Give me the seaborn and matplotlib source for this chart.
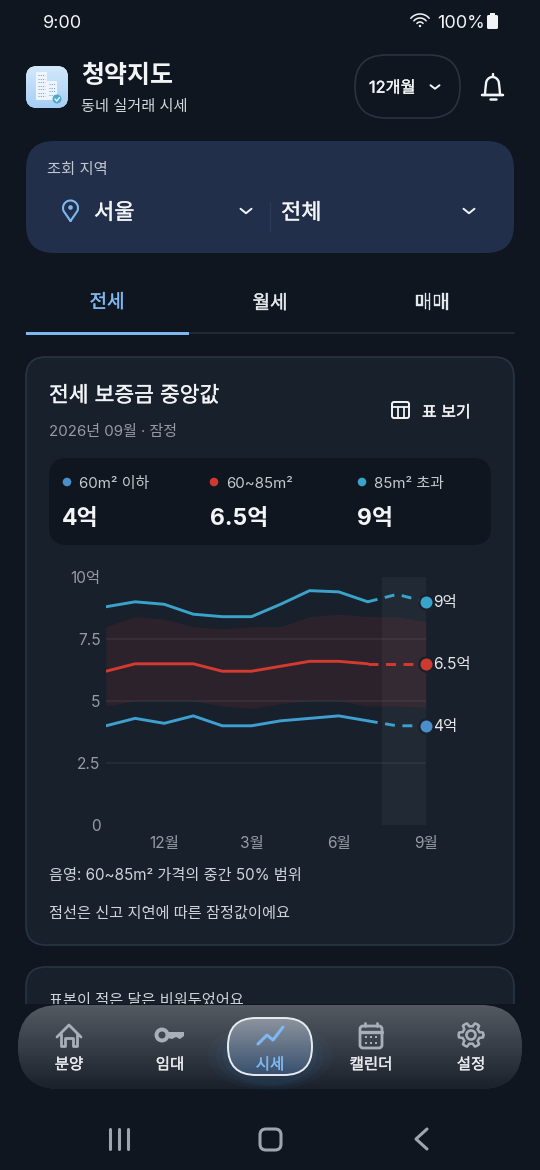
import numpy as np
import pandas as pd
import matplotlib
matplotlib.use("Agg")
import matplotlib.pyplot as plt
import matplotlib.patheffects as pe
import seaborn as sns
from matplotlib.patches import FancyBboxPatch, Circle, Polygon, Rectangle, Ellipse

# chart data (억)
months = [0, 1, 2, 3, 4, 5, 6, 7, 8, 9, 10, 11]
small = [4.0, 4.3, 4.1, 4.4, 4.0, 4.0, 4.2, 4.3, 4.4, 4.2, 4.0, 4.0]
mid = [6.2, 6.5, 6.5, 6.5, 6.2, 6.2, 6.4, 6.6, 6.6, 6.5, 6.5, 6.5]
large = [8.8, 9.0, 8.9, 8.5, 8.4, 8.4, 8.9, 9.45, 9.4, 9.0, 9.3, 9.0]
band_low = [4.8, 5.0, 5.0, 5.0, 4.8, 4.7, 4.9, 5.0, 5.0, 4.8, 4.8, 4.75]
band_high = [8.0, 8.4, 8.3, 8.0, 7.9, 8.0, 8.0, 8.4, 8.5, 8.4, 8.4, 8.2]
y_ticks = [0, 2.5, 5, 7.5, 10]
y_labels = ["0", "2.5", "5", "7.5", "10억"]
x_ticks = [2, 5, 8, 11]
x_labels = ["12월", "3월", "6월", "9월"]
end_labels = ["4억", "6.5억", "9억"]
stat_names = ["60m² 이하", "60~85m²", "85m² 초과"]
nav_names = ["분양", "임대", "시세", "캘린더", "설정"]

BG = "#0f1620"
CARD = "#18202b"
PANEL = "#212f4a"
INNER = "#10161f"
BLUE = "#4a8fc9"
RED = "#cf3a30"
TEAL = "#3aa3c9"
ACCENT = "#7fb8f0"
WHITE = "#f2f4f6"
GREY = "#969ca4"
ICON = "#a9afb8"

sns.set_theme(style="dark")
plt.rcParams["font.family"] = ["Inter", "Noto Sans CJK KR", "DejaVu Sans"]
plt.rcParams["axes.unicode_minus"] = False
plt.rcParams["patch.linewidth"] = 0
plt.rcParams["patch.edgecolor"] = "none"


def px(size):
    return size * 0.72


def rbox(ax, x0, y0, x1, y1, r, fc, ec="none", lw=1, z=1):
    p = FancyBboxPatch((x0, y0), x1 - x0, y1 - y0, boxstyle=f"round,pad=0,rounding_size={r}",
                       fc=fc, ec=ec, lw=lw, zorder=z)
    ax.add_patch(p)
    return p


def label(ax, x, y, s, size, color=WHITE, weight="normal", ha="left", z=5):
    # no medium cut of the font here, so thicken the regular one a little
    medium = weight == "medium"
    txt = ax.text(x, y + 1.7, s, fontsize=px(size), color=color, fontweight="normal" if medium else weight,
                  ha=ha, va="center", zorder=z)
    if medium:
        txt.set_path_effects([pe.withStroke(linewidth=0.25, foreground=color)])


def chevron(ax, x, y, w=5.5, h=4, color=WHITE):
    ax.plot([x - w, x, x + w], [y - h / 2, y + h / 2, y - h / 2], color=color, lw=1.4, zorder=5,
            solid_capstyle="round", solid_joinstyle="round")


def stroke(ax, xs, ys, color=ICON, lw=1.6, z=6):
    ax.plot(xs, ys, color=color, lw=lw, zorder=z, solid_capstyle="round", solid_joinstyle="round")


def gradient(ax, patch, top, bottom, x0, y0, x1, y1, z):
    c0 = np.array(matplotlib.colors.to_rgb(top))
    c1 = np.array(matplotlib.colors.to_rgb(bottom))
    t = np.linspace(0, 1, 128)[:, None, None]
    img = c0[None, None, :] * (1 - t) + c1[None, None, :] * t
    im = ax.imshow(img, extent=(x0, x1, y1, y0), aspect="auto", zorder=z, interpolation="bilinear")
    im.set_clip_path(patch)


fig = plt.figure(figsize=(5.4, 11.7), dpi=100, facecolor=BG)

# page behind the chart
ui = fig.add_axes([0, 0, 1, 1], zorder=1)
ui.set_xlim(0, 540)
ui.set_ylim(1170, 0)
ui.axis("off")

# status bar
label(ui, 43, 22, "9:00", 18)
label(ui, 437, 22, "100%", 18)
for r in (4, 8, 12):
    t = np.linspace(np.radians(-140), np.radians(-40), 20)
    stroke(ui, 420 + r * np.cos(t), 26 + r * np.sin(t), WHITE, 1.1)
ui.add_patch(Circle((420, 26), 1.2, fc=WHITE, zorder=6))
rbox(ui, 487, 15, 498, 29, 1.5, WHITE, z=6)
ui.add_patch(Rectangle((490, 13), 5, 2, fc=WHITE, zorder=6))

# header
icon = rbox(ui, 26, 66, 68, 108, 11, "#bcdcf8", z=2)
gradient(ui, icon, "#d4e9fb", "#a5cef5", 26, 66, 68, 108, 3)
for bx, by, bw, bh in ((36, 72, 11, 28), (47, 81, 10, 19)):
    ui.add_patch(Rectangle((bx, by), bw, bh, fc="#eef5fc", zorder=4))
    for wy in np.arange(by + 3, by + bh - 2, 3.5):
        ui.plot([bx + 2, bx + bw - 2], [wy, wy], color="#7fa7cf", lw=0.8, ls=(0, (1, 1)), zorder=5)
ui.add_patch(Circle((57, 99), 4.5, fc="#4fa9c9", zorder=6))
stroke(ui, [55, 56.7, 59.5], [99, 101, 97.5], WHITE, 1)
label(ui, 81, 74.5, "청약지도", 25, weight="bold")
label(ui, 81, 105, "동네 실거래 시세", 15.2, "#d4d8de")
rbox(ui, 355, 55, 460, 118, 31, BG, "#2a3340", 1.2)
label(ui, 369, 86.5, "12개월", 16.3, weight="medium")
chevron(ui, 435, 87, 4.5, 3.5)
# bell
t = np.linspace(np.pi, 2 * np.pi, 20)
stroke(ui, [485, 485.5] + list(492.5 + 6.5 * np.cos(t)) + [499.5, 500], [94, 88] + list(84 + 7 * np.sin(t)) + [88, 94],
       WHITE, 1.7)
stroke(ui, [482, 503, 482], [95, 95, 95], WHITE, 1.7)
stroke(ui, [489.5, 495.5], [99, 99], WHITE, 1.8)
stroke(ui, [492.5, 492.5], [74, 76], WHITE, 1.7)

# region selector
rbox(ui, 26, 141, 514, 253, 28, PANEL)
label(ui, 47, 168, "조회 지역", 15.3, "#c2c8d2")
t = np.linspace(np.radians(205), np.radians(-25), 30)
stroke(ui, [70.5] + list(70.5 + 7.5 * np.cos(t)) + [70.5], [221] + list(208 - 7.5 * np.sin(t)) + [221], ACCENT, 1.5)
ui.add_patch(Circle((70.5, 207.5), 2.3, fc=ACCENT, zorder=6))
label(ui, 94, 211.5, "서울", 22, weight="medium")
chevron(ui, 246, 211, 5.5, 4.5)
ui.plot([270, 270], [202, 232], color="#2b3a57", lw=1, zorder=3)
label(ui, 281, 211.5, "전체", 22, weight="medium")
chevron(ui, 469, 211, 5.5, 4.5)

# tabs
label(ui, 107, 301, "전세", 19, ACCENT, "medium", "center")
label(ui, 270, 302, "월세", 19, "#e4e7eb", "medium", "center")
label(ui, 432, 302, "매매", 19, "#e4e7eb", "medium", "center")
ui.plot([26, 514], [333, 333], color="#262e3a", lw=1.2, zorder=2)
ui.add_patch(Rectangle((26, 331.5), 163, 3.5, fc=ACCENT, zorder=3))

# main card
rbox(ui, 26, 357, 514, 945, 20, CARD, "#2a3442", 1.2)
label(ui, 49, 394, "전세 보증금 중앙값", 21.5, weight="medium")
label(ui, 49, 430, "2026년 09월 · 잠정", 15, GREY)
rbox(ui, 392, 402, 409, 418, 2, "none", WHITE, 1.4, z=5)
stroke(ui, [392, 409], [407, 407], WHITE, 1.3)
stroke(ui, [398, 398], [407, 418], WHITE, 1.3)
stroke(ui, [403.5, 403.5], [407, 418], WHITE, 1.3)
label(ui, 422, 411, "표 보기", 16, weight="medium")

# summary strip
rbox(ui, 49, 458, 491, 545, 18, INNER)
dot_x = [67, 214, 362]
name_x = [79, 226, 374]
value_x = [62, 210, 357]
dot_colors = [BLUE, RED, TEAL]
for i in range(3):
    ui.add_patch(Circle((dot_x[i], 482), 4.3, fc=dot_colors[i], zorder=5))
    label(ui, name_x[i], 482, stat_names[i], 15, "#c6cad0")
    label(ui, value_x[i], 517, end_labels[i], 23, weight="bold")

label(ui, 49, 874, "음영: 60~85m² 가격의 중간 50% 범위", 15.2, "#d0d4da")
label(ui, 49, 912, "점선은 신고 지연에 따른 잠정값이에요", 15.2, "#d0d4da")

# second card, cut off by the nav area
rbox(ui, 26, 967, 514, 1100, 20, CARD, "#2a3442", 1.2, z=1)
label(ui, 49, 999, "표본이 적은 달은 비워두었어요", 15.2, "#d0d4da", z=2)
ui.add_patch(Rectangle((0, 1004), 540, 166, fc=BG, zorder=3))

# chart
W, H = 540, 1170
ax = fig.add_axes([106 / W, (H - 825) / H, 320 / W, 248 / H], zorder=2)
ax.patch.set_alpha(0)
ax.axvspan(9.5, 11, color="white", alpha=0.045, lw=0, zorder=1)
ax.fill_between(months, band_low, band_high, color=RED, alpha=0.11, lw=0, zorder=2)
for v in y_ticks[1:-1]:
    ax.axhline(v, color="#8c97a8", alpha=0.13, lw=1.1, zorder=3)

series = [(small, BLUE, "#3f9fd0"), (mid, RED, "#d33a30"), (large, TEAL, "#3aa3c9")]
for vals, dot, line in series:
    frame = pd.DataFrame({"month": months, "value": vals})
    sns.lineplot(data=frame[frame.month <= 9], x="month", y="value", color=line, lw=2.1, ax=ax, zorder=5)
    sns.lineplot(data=frame[frame.month >= 9], x="month", y="value", color=line, lw=2.1, ax=ax, zorder=5,
                 linestyle=(0, (3.4, 2.6)))
    sns.scatterplot(x=months[-1:], y=vals[-1:], color=dot, s=105, edgecolor=CARD, linewidth=1.6, ax=ax,
                    zorder=6, clip_on=False)
    ax.annotate(f"{vals[-1]:g}억", (months[-1], vals[-1]), xytext=(5.4, -0.5), textcoords="offset points",
                color="#e6e8ec", fontsize=px(15.5), va="center", annotation_clip=False)

ax.set_xlim(0, 11)
ax.set_ylim(0, 10)
ax.set_xticks(x_ticks, x_labels)
ax.set_yticks(y_ticks, y_labels)
ax.set_xlabel("")
ax.set_ylabel("")
ax.tick_params(axis="both", length=0, colors=GREY, labelsize=px(15.5))
ax.tick_params(axis="x", pad=8)
ax.tick_params(axis="y", pad=4)
ax.grid(False)
sns.despine(ax=ax, left=True, bottom=True)

# bottom navigation
nav = fig.add_axes([0, 0, 1, 1], zorder=3)
nav.set_xlim(0, 540)
nav.set_ylim(1170, 0)
nav.axis("off")
nav.patch.set_alpha(0)

bar = rbox(nav, 18, 1005, 522, 1089, 42, "#33393f", z=1)
gradient(nav, bar, "#545a62", "#1a212b", 18, 1005, 522, 1089, 2)
for rx, ry, a in ((62, 34, 0.05), (54, 31, 0.06), (47, 29, 0.08)):
    glow = Ellipse((270, 1056), rx * 2, ry * 2, fc="#3f7fc0", alpha=a, lw=0, zorder=3)
    nav.add_patch(glow)
pill = rbox(nav, 228, 1018, 312, 1075, 28, "#6a7280", z=4)
gradient(nav, pill, "#8d949e", "#37506e", 228, 1018, 312, 1075, 5)
rbox(nav, 228, 1018, 312, 1075, 28, "none", "#e8ebef", 1.4, z=6)

nav_x = [69, 170, 270, 371, 471]
for i, name in enumerate(nav_names):
    label(nav, nav_x[i], 1063, name, 15.5, ACCENT if i == 2 else "#e8eaee", "medium", "center", z=7)

# house
stroke(nav, [57, 69, 81], [1037, 1025, 1037], ICON, 2, 7)
stroke(nav, [61, 61, 65, 65, 73, 73, 77, 77], [1034, 1046, 1046, 1038, 1038, 1046, 1046, 1034], ICON, 2, 7)
# key
nav.add_patch(Circle((162, 1035), 5.5, fc="none", ec=ICON, lw=2.8, zorder=7))
nav.add_patch(Polygon([[168, 1032], [184, 1032], [184, 1036], [180, 1039], [176, 1037], [172, 1039], [168, 1038]],
                      fc=ICON, zorder=7))
# trend
stroke(nav, [258, 267, 273, 283], [1044, 1035, 1040, 1027], ACCENT, 2.2, 7)
# calendar
rbox(nav, 360, 1026, 382, 1048, 3, "none", ICON, 2, z=7)
stroke(nav, [360, 382], [1032, 1032], ICON, 2.4, 7)
stroke(nav, [365, 365], [1023, 1026], ICON, 2, 7)
stroke(nav, [377, 377], [1023, 1026], ICON, 2, 7)
for cx in (366, 371, 376):
    for cy in (1037, 1043):
        nav.add_patch(Rectangle((cx - 1, cy - 1), 2, 2, fc=ICON, zorder=7))
# gear
t = np.linspace(0, 2 * np.pi, 193)
gear_r = 10.5 + 1.8 * np.clip(2.5 * np.cos(6 * t), -1, 1)
stroke(nav, 471 + gear_r * np.cos(t), 1035 + gear_r * np.sin(t), ICON, 1.8, 7)
nav.add_patch(Circle((471, 1035), 4.5, fc="none", ec=ICON, lw=1.9, zorder=7))

# system buttons
for sx in (110, 119, 128):
    stroke(nav, [sx, sx], [1129, 1149], "#a0a5ad", 2.2)
rbox(nav, 260, 1129, 281, 1150, 6, "none", "#a0a5ad", 2.2, z=6)
stroke(nav, [427, 416, 427], [1129, 1139, 1149], "#a0a5ad", 2.2)

fig.savefig("out.png", dpi=100, facecolor=BG)
